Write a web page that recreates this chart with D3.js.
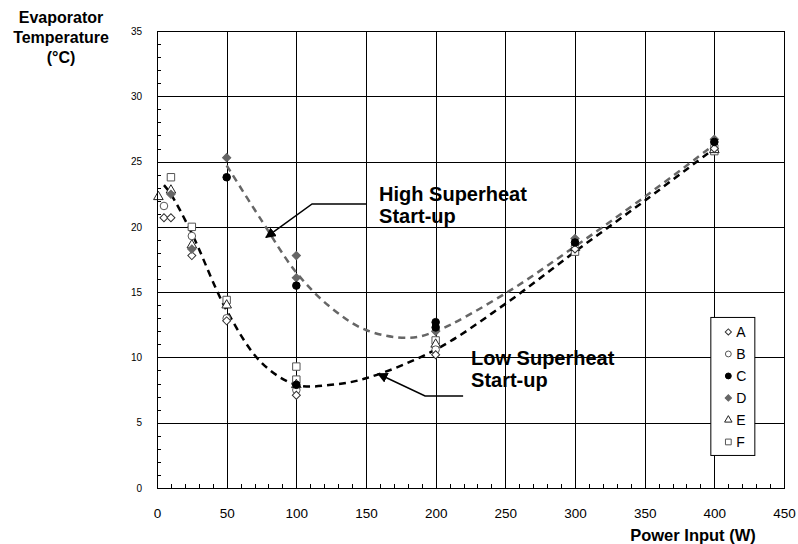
<!DOCTYPE html>
<html>
<head>
<meta charset="utf-8">
<script src="https://cdn.jsdelivr.net/npm/d3@7"></script>
<style>
  body { margin: 0; background: #fff; }
  svg { display: block; font-family: Arial, "Liberation Sans", sans-serif; }
</style>
</head>
<body>
<div id="chart"></div>
<script>
// axis ticks
const powerTicks = [0, 50, 100, 150, 200, 250, 300, 350, 400, 450];
const tempTicks = [0, 5, 10, 15, 20, 25, 30, 35];

// measured points, one pair of arrays per run
const powerA = [5, 10, 25, 50, 100, 200, 300, 400];
const tempA = [20.7, 20.7, 17.8, 12.8, 7.1, 10.2, 18.3, 26.0];
const powerB = [5, 25, 50, 100, 200, 300, 400];
const tempB = [21.6, 19.3, 13.0, 7.5, 10.6, 18.5, 26.2];
const powerC = [50, 100, 100, 200, 200, 300, 400];
const tempC = [23.8, 15.5, 7.9, 12.7, 12.3, 18.8, 26.5];
const powerD = [10, 25, 50, 100, 100, 200, 300, 400];
const tempD = [22.5, 18.3, 25.3, 17.8, 16.1, 12.0, 19.1, 26.7];
const powerE = [1, 10, 25, 50, 100, 200, 300, 400];
const tempE = [22.3, 22.8, 18.6, 14.0, 7.9, 11.0, 18.4, 25.9];
const powerF = [10, 25, 50, 100, 100, 200, 300, 400];
const tempF = [23.8, 20.0, 14.4, 9.3, 8.3, 11.3, 18.1, 25.8];

// trend curves
const lowCurvePower = [5, 10, 25, 50, 75, 100, 125, 150, 200, 250, 300, 350, 400];
const lowCurveTemp = [23.2, 22.5, 19.5, 13.6, 9.6, 7.9, 7.9, 8.4, 10.6, 14.1, 18.1, 22.0, 26.0];
const highCurvePower = [50, 75, 100, 125, 150, 180, 200, 250, 300, 350, 400];
const highCurveTemp = [24.7, 20.5, 16.5, 13.8, 12.1, 11.5, 12.0, 14.9, 18.5, 22.3, 26.3];

const seriesNames = ['A', 'B', 'C', 'D', 'E', 'F'];

const width = 798, height = 544;
const margin = { top: 31, right: 14, bottom: 56, left: 157 };
const innerW = width - margin.left - margin.right;
const innerH = height - margin.top - margin.bottom;

const svg = d3.select('#chart')
  .append('svg')
  .attr('width', width)
  .attr('height', height);

const g = svg.append('g')
  .attr('transform', 'translate(' + margin.left + ',' + margin.top + ')');

const x = d3.scaleLinear().domain([0, 450]).range([0, innerW]);
const y = d3.scaleLinear().domain([0, 35]).range([innerH, 0]);

// grid
g.append('g').selectAll('line')
  .data(tempTicks)
  .join('line')
  .attr('x1', 0).attr('x2', innerW)
  .attr('y1', d => Math.round(y(d)) + 0.5).attr('y2', d => Math.round(y(d)) + 0.5)
  .attr('stroke', '#000').attr('stroke-width', 1);

g.append('g').selectAll('line')
  .data(powerTicks)
  .join('line')
  .attr('y1', 0).attr('y2', innerH)
  .attr('x1', d => Math.round(x(d)) + 0.5).attr('x2', d => Math.round(x(d)) + 0.5)
  .attr('stroke', '#000').attr('stroke-width', 1);

// minor ticks
g.append('g').selectAll('line')
  .data(d3.range(0, 36, 1))
  .join('line')
  .attr('x1', 0).attr('x2', 4)
  .attr('y1', d => Math.round(y(d)) + 0.5).attr('y2', d => Math.round(y(d)) + 0.5)
  .attr('stroke', '#000');

g.append('g').selectAll('line')
  .data(d3.range(0, 451, 10))
  .join('line')
  .attr('y1', innerH).attr('y2', innerH - 4)
  .attr('x1', d => Math.round(x(d)) + 0.5).attr('x2', d => Math.round(x(d)) + 0.5)
  .attr('stroke', '#000');

// axes labels
const xAxis = g.append('g')
  .attr('transform', 'translate(0,' + innerH + ')')
  .call(d3.axisBottom(x).tickValues(powerTicks).tickSize(0).tickPadding(20));
xAxis.select('.domain').remove();
xAxis.selectAll('text').attr('font-size', 13.5).attr('font-family', 'Arial, "Liberation Sans", sans-serif');

const yAxis = g.append('g')
  .call(d3.axisLeft(y).tickValues(tempTicks).tickSize(0).tickPadding(15));
yAxis.select('.domain').remove();
yAxis.selectAll('text').attr('font-size', 10).attr('font-family', 'Arial, "Liberation Sans", sans-serif');

// trend curves
const curveLine = d3.line()
  .x(d => x(d[0]))
  .y(d => y(d[1]))
  .curve(d3.curveCatmullRom.alpha(0.5));

g.append('path')
  .datum(d3.zip(highCurvePower, highCurveTemp))
  .attr('fill', 'none')
  .attr('stroke', '#666')
  .attr('stroke-width', 2.5)
  .attr('stroke-dasharray', '7,5')
  .attr('d', curveLine);

g.append('path')
  .datum(d3.zip(lowCurvePower, lowCurveTemp))
  .attr('fill', 'none')
  .attr('stroke', '#000')
  .attr('stroke-width', 2.5)
  .attr('stroke-dasharray', '7,5')
  .attr('d', curveLine);

// markers (diamonds are squares turned 45 degrees)
const markerStyle = {
  A: { type: d3.symbolSquare, rot: 45, fill: '#fff', stroke: '#333', size: 32 },
  B: { type: d3.symbolCircle, rot: 0, fill: '#fff', stroke: '#555', size: 45 },
  C: { type: d3.symbolCircle, rot: 0, fill: '#000', stroke: '#000', size: 45 },
  D: { type: d3.symbolSquare, rot: 45, fill: '#666', stroke: '#666', size: 34 },
  E: { type: d3.symbolTriangle, rot: 0, fill: '#fff', stroke: '#222', size: 40 },
  F: { type: d3.symbolSquare, rot: 0, fill: '#fff', stroke: '#555', size: 55 }
};

const seriesData = {
  A: d3.zip(powerA, tempA),
  B: d3.zip(powerB, tempB),
  C: d3.zip(powerC, tempC),
  D: d3.zip(powerD, tempD),
  E: d3.zip(powerE, tempE),
  F: d3.zip(powerF, tempF)
};

['F', 'E', 'B', 'A', 'D', 'C'].forEach(name => {
  const s = markerStyle[name];
  g.append('g').selectAll('path')
    .data(seriesData[name])
    .join('path')
    .attr('transform', d => 'translate(' + x(d[0]) + ',' + y(d[1]) + ') rotate(' + s.rot + ')')
    .attr('d', d3.symbol().type(s.type).size(s.size))
    .attr('fill', s.fill)
    .attr('stroke', s.stroke)
    .attr('stroke-width', 1);
});

// annotations (positions in data units)
const notes = [
  { lines: ['High Superheat', 'Start-up'], at: [159.4, 22.0],
    path: [[150.7, 21.75], [111.3, 21.75], [78.2, 19.2]] },
  { lines: ['Low Superheat', 'Start-up'], at: [225.4, 9.4],
    path: [[219.7, 7.05], [192.4, 7.05], [158.6, 8.75]] }
];

svg.append('defs').append('marker')
  .attr('id', 'arrow')
  .attr('viewBox', '0 0 10 10')
  .attr('refX', 9).attr('refY', 5)
  .attr('markerWidth', 7).attr('markerHeight', 7)
  .attr('orient', 'auto')
  .append('path')
  .attr('d', 'M0,0L10,5L0,10z')
  .attr('fill', '#000');

notes.forEach(n => {
  g.append('path')
    .datum(n.path)
    .attr('fill', 'none')
    .attr('stroke', '#000')
    .attr('stroke-width', 1.5)
    .attr('marker-end', 'url(#arrow)')
    .attr('d', d3.line().x(d => x(d[0])).y(d => y(d[1])));

  const t = g.append('text')
    .attr('x', x(n.at[0]))
    .attr('y', y(n.at[1]))
    .attr('font-size', 20)
    .attr('font-weight', 'bold');
  n.lines.forEach((l, i) => {
    t.append('tspan')
      .attr('x', x(n.at[0]))
      .attr('dy', i === 0 ? 0 : 22)
      .text(l);
  });
});

// legend
const legend = g.append('g')
  .attr('transform', 'translate(' + (x(400) - 4) + ',' + (y(13.1)) + ')');
legend.append('rect')
  .attr('x', 0.5).attr('y', 0.5)
  .attr('width', 44).attr('height', 138)
  .attr('fill', '#fff')
  .attr('stroke', '#000');
seriesNames.forEach((name, i) => {
  const s = markerStyle[name];
  const row = legend.append('g')
    .attr('transform', 'translate(0,' + (15 + i * 22) + ')');
  row.append('path')
    .attr('transform', 'translate(18,0) rotate(' + s.rot + ')')
    .attr('d', d3.symbol().type(s.type).size(s.size * 0.6))
    .attr('fill', s.fill)
    .attr('stroke', s.stroke);
  row.append('text')
    .attr('x', 26)
    .attr('dy', '0.36em')
    .attr('font-size', 14)
    .text(name);
});

// plot border
g.append('rect')
  .attr('x', 0.5).attr('y', 0.5)
  .attr('width', innerW).attr('height', innerH)
  .attr('fill', 'none')
  .attr('stroke', '#000');

// axis titles
const yTitle = svg.append('text')
  .attr('x', 61).attr('y', 23)
  .attr('text-anchor', 'middle')
  .attr('font-size', 16)
  .attr('font-weight', 'bold');
['Evaporator', 'Temperature', '(°C)'].forEach((l, i) => {
  yTitle.append('tspan').attr('x', 61).attr('dy', i === 0 ? 0 : 20).text(l);
});

svg.append('text')
  .attr('x', 693).attr('y', 541)
  .attr('text-anchor', 'middle')
  .attr('font-size', 16.5)
  .attr('font-weight', 'bold')
  .text('Power Input (W)');
</script>
</body>
</html>
